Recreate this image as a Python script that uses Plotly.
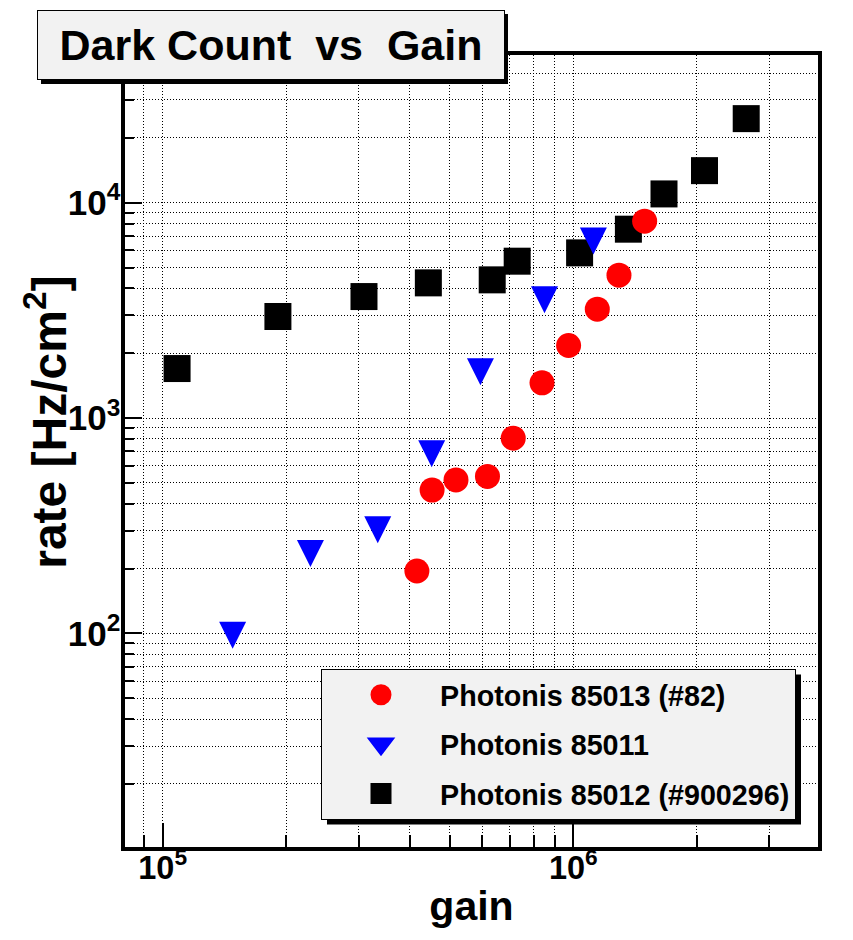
import plotly.graph_objects as go

# ---------------- data ----------------
gain_85013 = [4.16e5, 4.53e5, 5.18e5, 6.18e5, 7.14e5, 8.39e5, 9.74e5, 1.144e6, 1.292e6, 1.492e6]
rate_85013 = [195, 463, 516, 536, 807, 1458, 2172, 3205, 4609, 8209]

gain_85011 = [1.48e5, 2.29e5, 3.34e5, 4.52e5, 5.94e5, 8.51e5, 1.119e6]
rate_85011 = [98, 235, 303, 683, 1640, 3540, 6646]

gain_85012 = [1.084e5, 1.908e5, 3.092e5, 4.436e5, 6.346e5, 7.30e5, 1.036e6,
              1.362e6, 1.663e6, 2.087e6, 2.637e6]
rate_85012 = [1698, 2962, 3666, 4244, 4383, 5351, 5848, 7535, 10985, 14090, 24570]

names = ["Photonis 85013 (#82)", "Photonis 85011", "Photonis 85012 (#900296)"]
title_text = "Dark Count\u00a0\u00a0vs\u00a0\u00a0Gain"
x_title = "gain"
y_title = "rate [Hz/cm<sup>2</sup>]"

# ---------------- layout geometry (pixels) ----------------
W_PX, H_PX = 853, 940
L, R, T, B = 125.0, 818.0, 55.0, 847.5      # inner plot-area edges
# log-axis calibration from the reference picture
X5_PX, X_DEC = 162.7, 410.6                  # pixel of 1e5, px per decade
Y4_PX, Y_DEC = 202.8, 215.5                  # pixel of 1e4, px per decade
x_log_range = [5 + (L - X5_PX) / X_DEC, 5 + (R - X5_PX) / X_DEC]
y_log_range = [4 - (B - Y4_PX) / Y_DEC, 4 + (Y4_PX - T) / Y_DEC]
PW, PH = R - L, B - T


def pxx(v):
    return (v - L) / PW


def pxy(v):
    return (B - v) / PH


FONT = "Liberation Sans, Arial, Helvetica, sans-serif"

fig = go.Figure()

# data traces (black drawn first, so red / blue sit on top of it)
fig.add_trace(go.Scatter(
    x=gain_85012, y=rate_85012, mode="markers", name=names[2], showlegend=False,
    marker=dict(symbol="square", size=27, color="black", line=dict(width=0)),
))
fig.add_trace(go.Scatter(
    x=gain_85011, y=rate_85011, mode="markers", name=names[1], showlegend=False,
    marker=dict(symbol="arrow-down", size=27, standoff=13.5, color="#0000ff",
                line=dict(width=0)),
))
fig.add_trace(go.Scatter(
    x=gain_85013, y=rate_85013, mode="markers", name=names[0], showlegend=False,
    marker=dict(symbol="circle", size=25, color="#ff0000", line=dict(width=0)),
))

# legend entries (no points of their own)
legend_styles = [("circle", "#ff0000"), ("triangle-down", "#0000ff"), ("square", "black")]
for rank, (nm, (sym, col)) in enumerate(zip(names, legend_styles), start=1):
    fig.add_trace(go.Scatter(
        x=[None], y=[None], mode="markers", name=nm, showlegend=True,
        legendgroup=nm, legendrank=rank,
        marker=dict(symbol=sym, size=16, color=col, line=dict(width=5, color=col)),
    ))

grid_common = dict(gridcolor="black", gridwidth=1, griddash="1px,2px")

fig.update_xaxes(
    type="log", range=x_log_range,
    dtick=1, exponentformat="power", showexponent="all",
    showline=True, linewidth=4, linecolor="black", mirror=True,
    ticks="inside", ticklen=24, tickwidth=2, tickcolor="black",
    tickfont=dict(family=FONT, size=26, color="black", weight="bold"),
    ticklabelstandoff=-10,
    showgrid=True, **grid_common,
    minor=dict(dtick="D1", ticks="inside", ticklen=12, tickwidth=2, tickcolor="black",
               showgrid=True, **grid_common),
    title=dict(text=x_title, font=dict(family=FONT, size=41, color="black", weight="bold"),
               standoff=8),
    automargin=False, zeroline=False,
)
fig.update_yaxes(
    type="log", range=y_log_range,
    dtick=1, exponentformat="power", showexponent="all",
    showline=True, linewidth=4, linecolor="black", mirror=True,
    ticks="inside", ticklen=17, tickwidth=2, tickcolor="black",
    tickfont=dict(family=FONT, size=28, color="black", weight="bold"),
    ticklabelstandoff=-5,
    showgrid=True, **grid_common,
    minor=dict(dtick="D1", ticks="inside", ticklen=9, tickwidth=2, tickcolor="black",
               showgrid=True, **grid_common),
    automargin=False, zeroline=False,
)

shapes = [
    # title box shadow
    dict(type="rect", xref="paper", yref="paper",
         x0=pxx(41), x1=pxx(508), y0=pxy(84), y1=pxy(14),
         fillcolor="black", line=dict(width=0), layer="above"),
    # legend shadow
    dict(type="rect", xref="paper", yref="paper",
         x0=pxx(327), x1=pxx(801), y0=pxy(825), y1=pxy(675),
         fillcolor="black", line=dict(width=0), layer="above"),
]

annotations = [
    dict(text=title_text, xref="paper", yref="paper", x=pxx(271), y=pxy(45),
         xanchor="center", yanchor="middle", showarrow=False,
         width=466, height=68, borderpad=0, bgcolor="#f2f2f2",
         bordercolor="black", borderwidth=1,
         font=dict(family=FONT, size=43, color="black", weight="bold")),
    # y-axis title
    dict(text=y_title, xref="paper", yref="paper", x=pxx(46), y=pxy(423),
         xanchor="center", yanchor="middle", showarrow=False, textangle=-90,
         font=dict(family=FONT, size=48, color="black", weight="bold")),
]

fig.update_layout(
    width=W_PX, height=H_PX,
    margin=dict(l=L, r=W_PX - R, t=T, b=H_PX - B, autoexpand=False),
    paper_bgcolor="white", plot_bgcolor="white",
    showlegend=True,
    legend=dict(x=pxx(321), y=pxy(669), xanchor="left", yanchor="top",
                bgcolor="#f2f2f2", bordercolor="black", borderwidth=1,
                font=dict(family=FONT, size=28.7, color="black", weight="bold"),
                itemwidth=108, traceorder="grouped", tracegroupgap=9),
    shapes=shapes, annotations=annotations,
)

fig.write_html("out.html")
